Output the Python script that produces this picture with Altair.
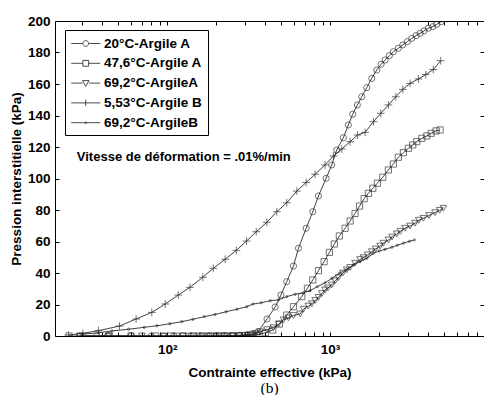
import altair as alt
import pandas as pd

series_names = ["20°C-Argile A", "47,6°C-Argile A", "69,2°C-ArgileA", "5,53°C-Argile B", "69,2°C-ArgileB"]

a20_x = [29, 37, 43, 60, 80, 95, 110, 125, 140, 160, 180, 200, 225, 250, 280, 310, 335, 361, 410, 460, 499,
         542, 596, 640, 713, 783, 848, 945, 1023, 1098, 1206, 1294, 1377, 1470, 1564, 1679, 1802, 1934, 2055,
         2175, 2311, 2446, 2624, 2793, 2981, 3171, 3371, 3567, 3773, 4011, 4267, 4518, 4800]
a20_y = [0, 0, 0, 0, 0, 0, 0, 0, 0, 0, 0, 0, 0.2, 0.3, 0.5, 0.8, 1.5, 2.7, 10.8, 18.4, 26,
         34.5, 44.4, 55.7, 68.4, 78.9, 88.9, 100.1, 108.6, 118.1, 125.9, 134, 140.8, 146.7, 151.9, 157.7, 163.6, 168.9, 172.5,
         175.2, 178, 180.5, 182.7, 184.8, 186.9, 189, 190.7, 192.2, 193.7, 195.4, 196.4, 197.9, 199.6]

a47_x = [25, 44, 60, 85, 105, 125, 145, 165, 185, 205, 225, 250, 275, 300, 325, 355, 400, 445, 489, 542, 596,
         670, 726, 783, 848, 919, 990, 1062, 1140, 1236, 1327, 1423, 1516, 1617, 1718, 1829, 1951, 2105, 2279,
         2445, 2623, 2817, 3022, 3215, 3404, 3654, 3921, 4168, 4469, 4730]
a47_y = [0, 0, 0, 0, 0, 0, 0, 0, 0, 0, 0, 0, 0, 0.2, 0.3, 0.6, 2, 3.8, 7.6, 13.3, 18.6,
         25, 30.3, 35.6, 41.5, 47.2, 53.1, 58.4, 63.5, 68.4, 73, 77.8, 82.5, 87.2, 90.6, 93.8, 97, 100.8, 105.4,
         109.2, 113.5, 116.4, 119.2, 121.3, 123.4, 125.5, 127, 128.7, 130.2, 130.8]

a69_x = [29, 44, 70, 95, 115, 135, 155, 175, 195, 215, 235, 255, 275, 300, 325, 350, 372, 410, 449, 483, 517,
         555, 596, 655, 686, 735, 773, 810, 848, 890, 931, 970, 1024, 1075, 1124, 1200, 1265, 1327, 1423, 1528,
         1600, 1700, 1802, 1900, 2028, 2123, 2280, 2400, 2565, 2700, 2884, 3096, 3322, 3500, 3736, 4050, 4406,
         4700, 4955]
a69_y = [0, 0, 0, 0, 0, 0, 0, 0, 0, 0, 0, 0, 0.2, 0.4, 0.8, 1.5, 2.7, 4, 5.3, 7.5, 10.2,
         11.5, 13, 14, 17, 19, 20.5, 22.5, 24.5, 27, 29.2, 30.5, 32.4, 35, 37, 40, 42, 43.5, 46.2, 48.5,
         49.7, 51.5, 53.5, 55.2, 57.1, 58.9, 61, 62.8, 64.8, 66.5, 68.4, 69.8, 71.6, 73.5, 74.7, 76.5, 78.3,
         79.8, 81.1]

b553_x = [24.8, 30.4, 37.9, 51, 64.5, 80.5, 97.3, 117, 138, 165.5, 192, 227, 266, 307, 352, 409, 471, 542, 625,
          713, 809, 931, 1048, 1180, 1327, 1472, 1641, 1845, 2047, 2279, 2531, 2793, 3096, 3484, 3866, 4300, 4775]
b553_y = [0.6, 1.7, 3.4, 6.3, 10.8, 15, 20.3, 26, 30.9, 37.3, 43, 48.7, 54.4, 60.3, 66.2, 72.2, 78.9, 84.6, 92,
          97.5, 102.7, 108.6, 114.3, 118.7, 123.4, 127.6, 129.3, 136.1, 141.4, 146.7, 151.9, 156.6, 160.4, 163.2, 166, 169.2, 174.8]

b692_x = [30, 38, 45.8, 58, 72.3, 86.5, 104, 123, 144, 169, 197, 230, 268, 308, 336, 378, 429, 482, 542, 610,
          686, 754, 835, 931, 1024, 1140, 1265, 1389, 1527, 1679, 1845, 2006, 2173, 2389, 2587, 2818, 3068, 3292]
b692_y = [1.1, 2.1, 3.2, 4.3, 5.5, 6.5, 7.8, 9.1, 10.6, 12.3, 13.7, 15.4, 17, 18.6, 20.3, 21.1, 22.4, 22.9, 25, 26.5,
          27.5, 28.8, 31.3, 33.8, 36.6, 39.8, 42.3, 45.1, 47.2, 49.3, 52.5, 54, 55, 56.3, 57.6, 58.9, 60.1, 61]

x_major = [100, 1000]
x_minor = [30, 40, 50, 60, 70, 80, 90, 200, 300, 400, 500, 600, 700, 800, 900,
           2000, 3000, 4000, 5000, 6000, 7000, 8000]
y_ticks = [0, 20, 40, 60, 80, 100, 120, 140, 160, 180, 200]

ann_text = ["Vitesse de déformation = .01%/min"]
ann_x = [27.9]
ann_y = [113.7]

rows = []
for name, xs, ys in zip(series_names, [a20_x, a47_x, a69_x, b553_x, b692_x],
                        [a20_y, a47_y, a69_y, b553_y, b692_y]):
    for i, (xv, yv) in enumerate(zip(xs, ys)):
        rows.append({"serie": name, "x": xv, "y": yv, "i": i})
df = pd.DataFrame(rows)
ann_df = pd.DataFrame({"x": ann_x, "y": ann_y, "t": ann_text})

W, H = 429, 315
FONT = "Liberation Sans"

x_scale = alt.Scale(type="log", domain=[20.5, 8800], nice=False)
y_scale = alt.Scale(domain=[0, 200], nice=False)

label_expr = "datum.value == 100 ? '10²' : '10³'"

lines = alt.Chart(df).mark_line(color="#111", strokeWidth=0.8, clip=True).encode(
    x=alt.X("x:Q", scale=x_scale, axis=alt.Axis(
        orient="bottom", values=x_major, labelExpr=label_expr, ticks=False, domain=False,
        labelFont=FONT, labelFontSize=13.5, labelFontWeight="bold", labelColor="black", labelPadding=6,
        title="Contrainte effective (kPa)", titleFont=FONT, titleFontSize=13.5, titleFontWeight="bold",
        titleColor="black", titlePadding=10)),
    y=alt.Y("y:Q", scale=y_scale, axis=alt.Axis(
        orient="left", values=y_ticks, ticks=False, domain=False,
        labelFont=FONT, labelFontSize=13.5, labelFontWeight="bold", labelColor="black", labelPadding=5,
        title="Pression interstitielle (kPa)", titleFont=FONT, titleFontSize=13.5, titleFontWeight="bold",
        titleColor="black", titlePadding=4)),
    detail="serie:N",
    order="i:Q",
)

plot_shapes = ["circle", "square", "triangle-down", "M-1,0H1M0,-1V1", "circle"]
size_expr = ("datum.serie == '69,2°C-ArgileB' ? 5 : (datum.serie == '5,53°C-Argile B' ? 60 : "
             "(datum.serie == '69,2°C-ArgileA' ? 45 : 38))")

points = alt.Chart(df).transform_calculate(ms=size_expr).mark_point(
    filled=False, color="#222", strokeWidth=0.9, clip=True).encode(
    x=alt.X("x:Q", scale=x_scale, axis=alt.Axis(
        orient="top", offset=-H, values=x_major + x_minor, labels=False, domain=False,
        tickSize=4, tickColor="black", title=None)),
    y=alt.Y("y:Q", scale=y_scale, axis=alt.Axis(
        orient="right", offset=-W, values=y_ticks, labels=False, domain=False,
        tickSize=4, tickColor="black", title=None)),
    shape=alt.Shape("serie:N", scale=alt.Scale(domain=series_names, range=plot_shapes), legend=None),
    size=alt.Size("ms:Q", scale=None),
)

legend_paths = [
    "M-1,0H0.6M1.4,0H3M0.6,0A0.4,0.4 0 1,0 1.4,0A0.4,0.4 0 1,0 0.6,0",
    "M-1,0H0.6M1.4,0H3M0.6,-0.4H1.4V0.4H0.6Z",
    "M-1,0H0.55M1.45,0H3M0.55,-0.35H1.45L1,0.45Z",
    "M-1,0H3M1,-0.45V0.45",
    "M-1,0H3M0.88,0A0.12,0.12 0 1,0 1.12,0A0.12,0.12 0 1,0 0.88,0",
]

legend_layer = alt.Chart(df).transform_filter("false").mark_point(filled=False, color="black").encode(
    x=alt.X("x:Q", scale=x_scale, axis=None),
    y=alt.Y("y:Q", scale=y_scale, axis=None),
    shape=alt.Shape("serie:N", scale=alt.Scale(domain=series_names, range=legend_paths),
                    legend=alt.Legend(title=None, orient="none", legendX=10, legendY=9,
                                      symbolSize=210, symbolStrokeWidth=1, symbolStrokeColor="black",
                                      symbolFillColor="transparent", symbolOffset=0,
                                      labelFont=FONT, labelFontSize=13.5, labelFontWeight="bold",
                                      labelColor="black", labelOffset=17.5, rowPadding=4.8,
                                      padding=5.5, strokeColor="black", fillColor="white")),
)

text = alt.Chart(ann_df).mark_text(align="left", baseline="middle", font=FONT, fontSize=13,
                                   fontWeight="bold", color="black").encode(
    x=alt.X("x:Q", scale=x_scale, axis=alt.Axis(
        orient="bottom", offset=-H, values=x_major + x_minor, labels=False, domain=False,
        tickSize=4, tickColor="black", title=None)),
    y=alt.Y("y:Q", scale=y_scale, axis=alt.Axis(
        orient="left", offset=-W, values=y_ticks, labels=False, domain=False,
        tickSize=4, tickColor="black", title=None)),
    text="t:N",
)

chart = alt.layer(lines, points, legend_layer, text).resolve_scale(
    shape="independent"
).resolve_axis(x="independent", y="independent").resolve_legend(shape="independent").properties(
    width=W, height=H,
    autosize=alt.AutoSizeParams(type="none"),
    padding={"left": 47, "top": 13, "right": 0, "bottom": 59},
    title=alt.TitleParams("(b)", orient="bottom", font="Liberation Serif", fontSize=15.5,
                          fontWeight="normal", color="black", offset=2, anchor="middle", frame="group"),
).configure_view(stroke="black", strokeWidth=1).configure_axis(grid=False)

chart.save("out.html", embed_options={"renderer": "svg", "actions": False})
